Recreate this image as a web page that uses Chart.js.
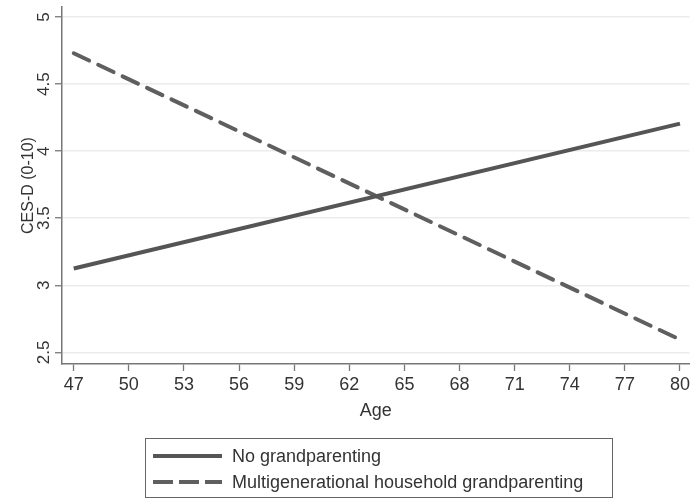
<!DOCTYPE html>
<html>
<head>
<meta charset="utf-8">
<script src="https://cdn.jsdelivr.net/npm/chart.js@4/dist/chart.umd.min.js"></script>
<style>
  html, body { margin: 0; padding: 0; background: #fff; }
  #wrap { position: relative; width: 693px; height: 500px; }
  #legend {
    position: absolute; left: 145px; top: 438px; width: 466px; height: 58px;
    border: 1.3px solid #666; box-sizing: content-box;
    font-family: "Liberation Sans", Arial, sans-serif; font-size: 18px; color: #333;
  }
  .row { position: absolute; left: 0; height: 26px; display: flex; align-items: center; }
  .row svg { margin-left: 7px; margin-right: 10px; }
</style>
</head>
<body>
<div id="wrap">
  <canvas id="c" width="693" height="500"></canvas>
  <div id="legend"></div>
</div>
<script>
// ---- data ----
const ages = [47, 80];
const noGrandparenting = [3.125, 4.205];
const multigenGrandparenting = [4.73, 2.595];
const seriesNames = ['No grandparenting', 'Multigenerational household grandparenting'];
const xTickLabels = [47, 50, 53, 56, 59, 62, 65, 68, 71, 74, 77, 80];
const yTickLabels = [2.5, 3, 3.5, 4, 4.5, 5];
const xTitle = 'Age';
const yTitle = 'CES-D (0-10)';

const FONT = '"Liberation Sans", Arial, sans-serif';
const TEXT = '#333';
const lineColors = ['#555555', '#5f5f5f'];
const dashes = [[], [17, 10]];

const toPts = (xs, ys) => xs.map((x, i) => ({x: x, y: ys[i]}));

const yTickPlugin = {
  id: 'yTickLabels',
  afterDraw(chart) {
    const y = chart.scales.y;
    const ctx = chart.ctx;
    ctx.save();
    ctx.fillStyle = TEXT;
    ctx.font = '17px ' + FONT;
    ctx.textAlign = 'center';
    ctx.textBaseline = 'alphabetic';
    yTickLabels.forEach(v => {
      const py = y.getPixelForValue(v);
      ctx.save();
      ctx.translate(48.5, py);
      ctx.rotate(-Math.PI / 2);
      ctx.fillText(String(v), 0, 0);
      ctx.restore();
    });
    ctx.restore();
  }
};

const chart = new Chart(document.getElementById('c'), {
  type: 'line',
  data: {
    datasets: [
      { label: seriesNames[0], data: toPts(ages, noGrandparenting) },
      { label: seriesNames[1], data: toPts(ages, multigenGrandparenting) }
    ].map((d, i) => Object.assign(d, {
      borderColor: lineColors[i], borderWidth: 4, borderDash: dashes[i],
      borderCapStyle: i === 1 ? 'round' : 'butt',
      pointRadius: 0, fill: false, tension: 0
    }))
  },
  options: {
    responsive: false,
    animation: false,
    layout: { padding: { top: 7, right: 0, left: 0, bottom: 76 } },
    plugins: { legend: { display: false }, tooltip: { enabled: false } },
    scales: {
      x: {
        type: 'linear', min: 46.36, max: 80.52,
        afterBuildTicks: s => { s.ticks = xTickLabels.map(v => ({value: v})); },
        afterFit: s => { s.height = 60; },
        ticks: { color: TEXT, font: { size: 18, family: FONT }, padding: 3, maxRotation: 0, callback: v => String(v) },
        grid: { drawOnChartArea: false, drawTicks: true, tickLength: 7, tickColor: '#777', tickWidth: 1.3 },
        border: { color: '#777', width: 1.5 },
        title: { display: true, text: xTitle, color: TEXT, font: { size: 18, family: FONT }, padding: { top: 0, bottom: 2.5 } }
      },
      y: {
        type: 'linear', min: 2.413, max: 5.075,
        afterBuildTicks: s => { s.ticks = yTickLabels.map(v => ({value: v})); },
        afterFit: s => { s.width = 62; },
        ticks: { display: false },
        grid: { color: '#ececec', lineWidth: 1.5, drawTicks: true, tickLength: 7, tickColor: '#777', tickWidth: 1.3 },
        border: { color: '#777', width: 1.5 },
        title: { display: true, text: yTitle, color: TEXT, font: { size: 16, family: FONT }, padding: { top: 18.5, bottom: 0 } }
      }
    }
  },
  plugins: [yTickPlugin]
});

// HTML legend built from the chart's datasets
const legend = document.getElementById('legend');
chart.data.datasets.forEach((d, i) => {
  const row = document.createElement('div');
  row.className = 'row';
  row.style.top = (4 + i * 26) + 'px';
  const svgNS = 'http://www.w3.org/2000/svg';
  const svg = document.createElementNS(svgNS, 'svg');
  svg.setAttribute('width', '69'); svg.setAttribute('height', '10');
  const ln = document.createElementNS(svgNS, 'line');
  ln.setAttribute('x1', '0'); ln.setAttribute('x2', '69');
  ln.setAttribute('y1', '5'); ln.setAttribute('y2', '5');
  ln.setAttribute('stroke', d.borderColor); ln.setAttribute('stroke-width', '4');
  if (d.borderDash.length) ln.setAttribute('stroke-dasharray', '20 6');
  svg.appendChild(ln);
  const span = document.createElement('span');
  span.textContent = d.label;
  row.appendChild(svg); row.appendChild(span);
  legend.appendChild(row);
});
</script>
</body>
</html>
